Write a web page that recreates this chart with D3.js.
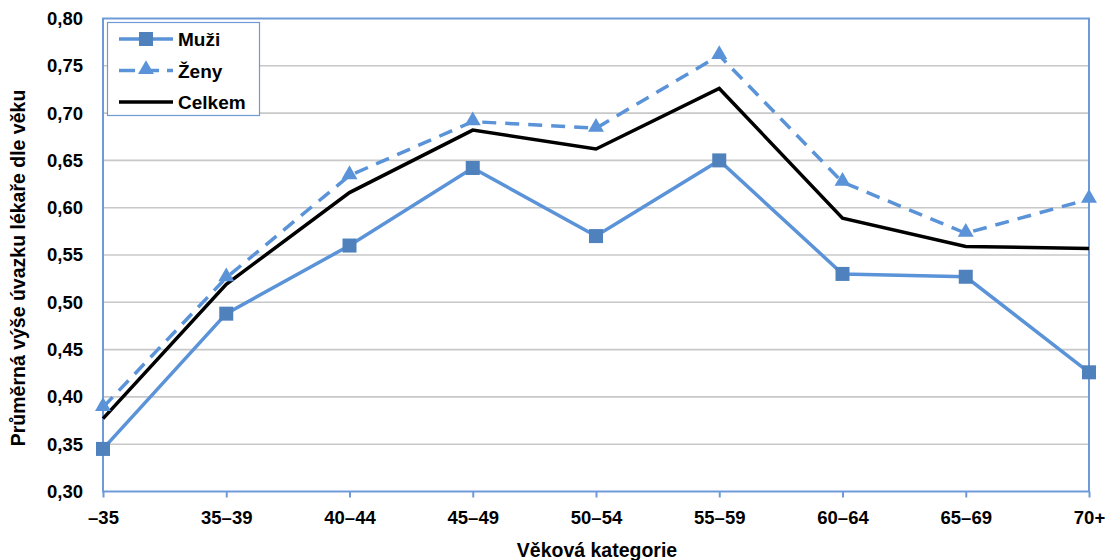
<!DOCTYPE html>
<html>
<head>
<meta charset="utf-8">
<script src="https://cdn.jsdelivr.net/npm/d3@7"></script>
<style>
  html, body { margin: 0; padding: 0; background: #ffffff; }
  svg text { font-family: "Liberation Sans", Arial, sans-serif; font-weight: bold; fill: #000; }
</style>
</head>
<body>
<svg id="chart" width="1106" height="560"></svg>
<script>
// Age groups and average job share per physician
const categories = ["\u201335", "35\u201339", "40\u201344", "45\u201349", "50\u201354", "55\u201359", "60\u201364", "65\u201369", "70+"];
const muzi   = [0.345, 0.488, 0.560, 0.642, 0.570, 0.650, 0.530, 0.527, 0.426];
const zeny   = [0.389, 0.526, 0.634, 0.691, 0.684, 0.761, 0.627, 0.573, 0.609];
const celkem = [0.377, 0.519, 0.616, 0.682, 0.662, 0.726, 0.589, 0.559, 0.557];
const yTicks = [0.30, 0.35, 0.40, 0.45, 0.50, 0.55, 0.60, 0.65, 0.70, 0.75, 0.80];

const svg = d3.select("#chart");
const margin = { left: 103, right: 17, top: 18.5, bottom: 68.5 };
const W = 1106, H = 560;
const x0 = margin.left, x1 = W - margin.right;
const y0 = H - margin.bottom, y1 = margin.top;

const x = d3.scalePoint().domain(categories).range([x0, x1]);
const y = d3.scaleLinear().domain([0.30, 0.80]).range([y0, y1]);

const axisBlue = "#6e9bd8";
const lineBlue = "#5b93d8";
const markBlue = "#4f81bd";
const tickFont = "18.5px";

// horizontal gridlines
svg.append("g")
  .selectAll("line")
  .data(yTicks.filter(t => t > 0.30 && t < 0.80))
  .join("line")
  .attr("x1", x0).attr("x2", x1)
  .attr("y1", d => y(d)).attr("y2", d => y(d))
  .attr("stroke", "#c8c8c8").attr("stroke-width", 1.6);

// y axis labels
const yAxis = d3.axisLeft(y).tickValues(yTicks).tickSize(0).tickPadding(20)
  .tickFormat(d => d3.format(".2f")(d).replace(".", ","));
const gy = svg.append("g").attr("transform", `translate(${x0},0)`).call(yAxis);
gy.select(".domain").remove();
gy.selectAll("text").style("font-size", tickFont).style("font-family", "Liberation Sans, Arial, sans-serif").style("font-weight", "bold");

// x axis with ticks at categories
const xAxis = d3.axisBottom(x).tickSize(6).tickPadding(13);
const gx = svg.append("g").attr("transform", `translate(0,${y0})`).call(xAxis);
gx.select(".domain").remove();
gx.selectAll(".tick line").attr("stroke", axisBlue).attr("stroke-width", 2);
gx.selectAll("text").style("font-size", tickFont).style("font-family", "Liberation Sans, Arial, sans-serif").style("font-weight", "bold");

// plot border
svg.append("rect")
  .attr("x", x0).attr("y", y1).attr("width", x1 - x0).attr("height", y0 - y1)
  .attr("fill", "none").attr("stroke", axisBlue).attr("stroke-width", 2);

const line = d3.line().x((d, i) => x(categories[i])).y(d => y(d));

// Celkem
svg.append("path").datum(celkem).attr("d", line)
  .attr("fill", "none").attr("stroke", "#000").attr("stroke-width", 3.5).attr("stroke-linejoin", "miter");

// Ženy (dashed + triangles)
svg.append("path").datum(zeny).attr("d", line)
  .attr("fill", "none").attr("stroke", lineBlue).attr("stroke-width", 3.5)
  .attr("stroke-dasharray", "14,9");
const tri = d3.symbol().type(d3.symbolTriangle).size(110);
svg.append("g").selectAll("path").data(zeny).join("path")
  .attr("d", tri)
  .attr("transform", (d, i) => `translate(${x(categories[i])},${y(d) - 1})`)
  .attr("fill", lineBlue);

// Muži (solid + squares)
svg.append("path").datum(muzi).attr("d", line)
  .attr("fill", "none").attr("stroke", lineBlue).attr("stroke-width", 3.5);
svg.append("g").selectAll("rect").data(muzi).join("rect")
  .attr("x", (d, i) => x(categories[i]) - 7)
  .attr("y", d => y(d) - 7)
  .attr("width", 14).attr("height", 14)
  .attr("fill", markBlue);

// legend
const lg = svg.append("g");
lg.append("rect").attr("x", 107.5).attr("y", 22.5).attr("width", 152).attr("height", 93)
  .attr("fill", "#fff").attr("stroke", axisBlue).attr("stroke-width", 1.2);
const legendItems = [
  { name: "Mu\u017ei", color: lineBlue, dash: null, marker: "square" },
  { name: "\u017deny", color: lineBlue, dash: "16,8", marker: "triangle" },
  { name: "Celkem", color: "#000", dash: null, marker: null }
];
legendItems.forEach((it, i) => {
  const cy = 39 + i * 31.5;
  const l = lg.append("line").attr("x1", 119).attr("x2", 173).attr("y1", cy).attr("y2", cy)
    .attr("stroke", it.color).attr("stroke-width", 3.5);
  if (it.dash) l.attr("stroke-dasharray", it.dash);
  if (it.marker === "square") {
    lg.append("rect").attr("x", 146 - 7).attr("y", cy - 7).attr("width", 14).attr("height", 14).attr("fill", markBlue);
  } else if (it.marker === "triangle") {
    lg.append("path").attr("d", tri).attr("transform", `translate(146,${cy - 1})`).attr("fill", lineBlue);
  }
  lg.append("text").attr("x", 178).attr("y", cy + 7).style("font-size", "19px").text(it.name);
});

// axis titles
svg.append("text").attr("x", 597).attr("y", 557).attr("text-anchor", "middle")
  .style("font-size", "19.5px").text("V\u011bkov\u00e1 kategorie");
svg.append("text").attr("transform", `translate(25,268) rotate(-90)`)
  .attr("text-anchor", "middle").style("font-size", "19.5px")
  .text("Pr\u016fm\u011brn\u00e1 v\u00fd\u0161e \u00favazku l\u00e9ka\u0159e dle v\u011bku");
</script>
</body>
</html>
